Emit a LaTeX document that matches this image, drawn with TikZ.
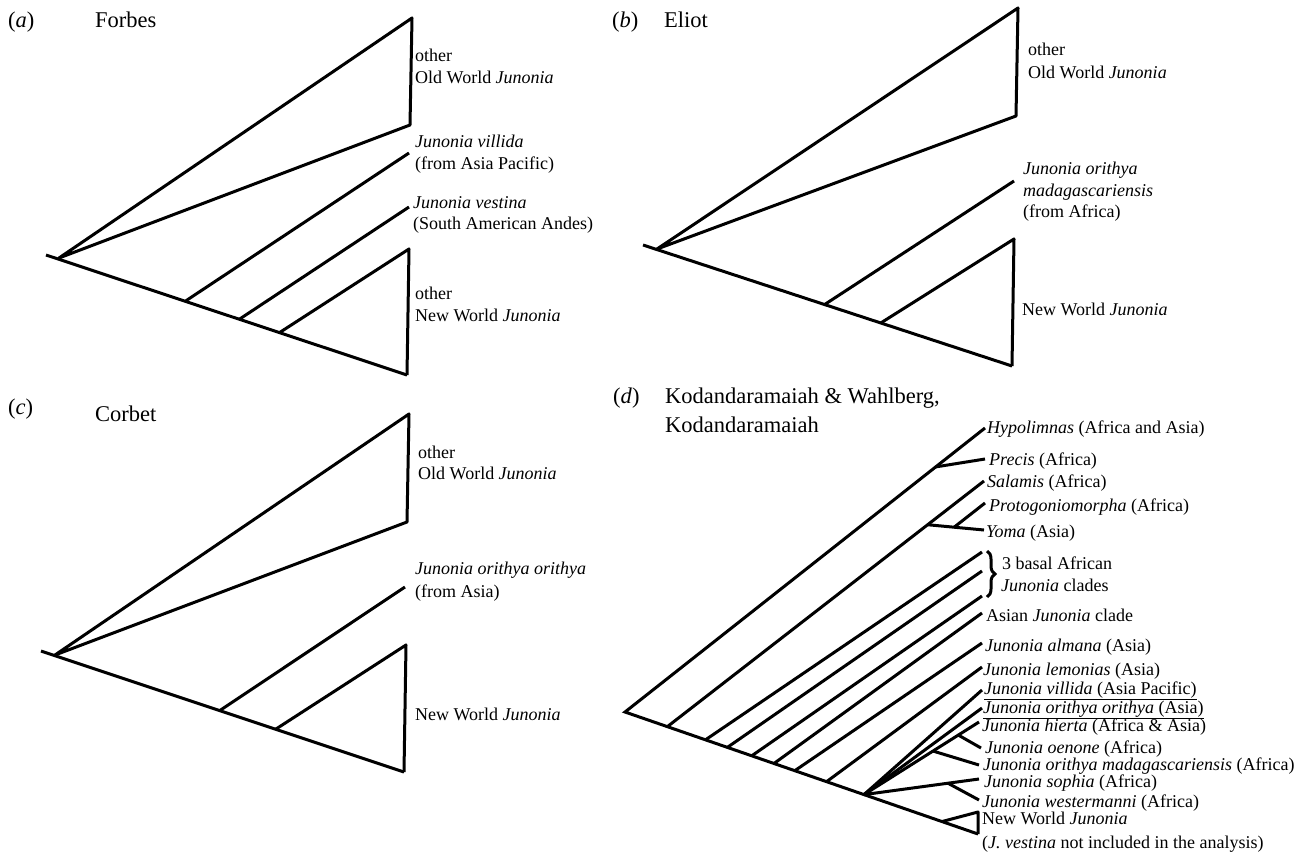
\documentclass[tikz,border=0pt]{standalone}
\usepackage{fontspec}
\setmainfont{Liberation Serif}
\usepackage{tikz}
\usetikzlibrary{calc,decorations.pathreplacing}
\definecolor{treeink}{RGB}{0,0,0}

\begin{document}
\begin{tikzpicture}[x=1pt,y=-1pt,
    branch/.style={treeink,line width=3pt,line join=round},
    taxon/.style={anchor=base west,inner sep=0pt,text=treeink,font=\fontsize{18}{22}\selectfont},
    paneltag/.style={anchor=base west,inner sep=0pt,text=treeink,font=\fontsize{22.5}{29}\selectfont}]

    \useasboundingbox (0,0) rectangle (1314,854);

    % 白色底

    \fill[white] (0,0) rectangle (1314,854);

    % (a) Forbes

    \node[paneltag] (tagA) at (8,27) {(\textit{a})};
    \node[paneltag] (authA) at (95,27) {Forbes};

    \coordinate (aS) at (46,255);
    \coordinate (aR) at (59,258);
    \coordinate (aE) at (407,375);
    \coordinate (aT1) at (412,18);
    \coordinate (aT2) at (410,125);
    \coordinate (aV0) at ($(aR)!0.365!(aE)$);
    \coordinate (aV1) at (409,153);
    \coordinate (aW0) at ($(aR)!0.52!(aE)$);
    \coordinate (aW1) at (409,207);
    \coordinate (aN0) at ($(aR)!0.635!(aE)$);
    \coordinate (aN1) at (409,249);

    \draw[branch] (aS) -- (aE);
    \draw[branch] (aR) -- (aT1) -- (aT2) -- cycle;
    \draw[branch] (aV0) -- (aV1);
    \draw[branch] (aW0) -- (aW1);
    \draw[branch] (aN0) -- (aN1) -- (aE);

    \node[taxon] (aOW1) at (415,61) {other};
    \node[taxon] (aOW2) at (415,83) {Old World \textit{Junonia}};
    \node[taxon] (aVi1) at (415,147) {\textit{Junonia villida}};
    \node[taxon] (aVi2) at (415,169) {(from Asia Pacific)};
    \node[taxon] (aVe1) at (413,208) {\textit{Junonia vestina}};
    \node[taxon] (aVe2) at (413,229) {(South American Andes)};
    \node[taxon] (aNW1) at (415,299) {other};
    \node[taxon] (aNW2) at (415,321) {New World \textit{Junonia}};

    % (b) Eliot

    \node[paneltag] (tagB) at (612,27) {(\textit{b})};
    \node[paneltag] (authB) at (664,27) {Eliot};

    \coordinate (bS) at (643,245);
    \coordinate (bR) at (657,249);
    \coordinate (bE) at (1012,366);
    \coordinate (bT1) at (1018,8);
    \coordinate (bT2) at (1016,116);
    \coordinate (bM0) at ($(bR)!0.473!(bE)$);
    \coordinate (bM1) at (1014,181);
    \coordinate (bN0) at ($(bR)!0.631!(bE)$);
    \coordinate (bN1) at (1014,239);

    \draw[branch] (bS) -- (bE);
    \draw[branch] (bR) -- (bT1) -- (bT2) -- cycle;
    \draw[branch] (bM0) -- (bM1);
    \draw[branch] (bN0) -- (bN1) -- (bE);

    \node[taxon] (bOW1) at (1028,55) {other};
    \node[taxon] (bOW2) at (1028,78) {Old World \textit{Junonia}};
    \node[taxon] (bMa1) at (1023,174) {\textit{Junonia orithya}};
    \node[taxon] (bMa2) at (1023,196) {\textit{madagascariensis}};
    \node[taxon] (bMa3) at (1023,217) {(from Africa)};
    \node[taxon] (bNW1) at (1022,315) {New World \textit{Junonia}};

    % (c) Corbet

    \node[paneltag] (tagC) at (8,414) {(\textit{c})};
    \node[paneltag] (authC) at (95,421) {Corbet};

    \coordinate (cS) at (41,651);
    \coordinate (cR) at (55,655);
    \coordinate (cE) at (404,772);
    \coordinate (cT1) at (409,414);
    \coordinate (cT2) at (407,522);
    \coordinate (cO0) at ($(cR)!0.473!(cE)$);
    \coordinate (cO1) at (405,587);
    \coordinate (cN0) at ($(cR)!0.633!(cE)$);
    \coordinate (cN1) at (406,645);

    \draw[branch] (cS) -- (cE);
    \draw[branch] (cR) -- (cT1) -- (cT2) -- cycle;
    \draw[branch] (cO0) -- (cO1);
    \draw[branch] (cN0) -- (cN1) -- (cE);

    \node[taxon] (cOW1) at (418,458) {other};
    \node[taxon] (cOW2) at (418,479) {Old World \textit{Junonia}};
    \node[taxon] (cOo1) at (415,574) {\textit{Junonia orithya orithya}};
    \node[taxon] (cOo2) at (415,597) {(from Asia)};
    \node[taxon] (cNW1) at (415,720) {New World \textit{Junonia}};

    % (d) Kodandaramaiah & Wahlberg

    \node[paneltag] (tagD) at (613,403) {(\textit{d})};
    \node[paneltag] (authD1) at (665,403) {Kodandaramaiah \& Wahlberg,};
    \node[paneltag] (authD2) at (665,432) {Kodandaramaiah};

    \coordinate (dR) at (625,712);
    \coordinate (dE) at (978,834);
    \coordinate (dHy) at (985,428);
    \coordinate (dPr0) at ($(dR)!0.863!(dHy)$);
    \coordinate (dPr) at (985,459);
    \coordinate (dSa0) at ($(dR)!0.12!(dE)$);
    \coordinate (dSa) at (984,481);
    \coordinate (dYo0) at ($(dSa0)!0.822!(dSa)$);
    \coordinate (dYo) at (984,530);
    \coordinate (dPg0) at ($(dYo0)!0.47!(dYo)$);
    \coordinate (dPg) at (985,503);

    \draw[branch,line join=miter] (dHy) -- (dR) -- (dE);
    \draw[branch] (dPr0) -- (dPr);
    \draw[branch] (dSa0) -- (dSa);
    \draw[branch] (dYo0) -- (dYo);
    \draw[branch] (dPg0) -- (dPg);

    % 基部分支：三个非洲支、亚洲支、almana、lemonias

    \foreach \t/\ty [count=\i] in {0.228/552,0.29/571,0.359/596,0.422/613,0.481/643,0.571/667}{
      \coordinate (dB\i) at ($(dR)!\t!(dE)$);
      \coordinate (dBt\i) at (982,\ty);
      \draw[branch] (dB\i) -- (dBt\i);
    }

    % 冠群

    \coordinate (dC) at ($(dR)!0.677!(dE)$);
    \coordinate (dVi) at (982,690);
    \coordinate (dOo) at (982,708);
    \coordinate (dHi) at (979,722);
    \coordinate (dOe0) at ($(dC)!0.82!(dHi)$);
    \coordinate (dOe) at (981,748);
    \coordinate (dMa0) at ($(dC)!0.6!(dHi)$);
    \coordinate (dMa) at (979,765);
    \coordinate (dSo) at (979,779);
    \coordinate (dWe0) at ($(dC)!0.73!(dSo)$);
    \coordinate (dWe) at (979,800);
    \coordinate (dN0) at ($(dR)!0.898!(dE)$);
    \coordinate (dN1) at (978,812);

    \draw[branch] (dC) -- (dVi);
    \draw[branch] (dC) -- (dOo);
    \draw[branch] (dC) -- (dHi);
    \draw[branch] (dOe0) -- (dOe);
    \draw[branch] (dMa0) -- (dMa);
    \draw[branch] (dC) -- (dSo);
    \draw[branch] (dWe0) -- (dWe);
    \draw[branch] (dN0) -- (dN1) -- (dE);

    % 花括号

    \coordinate (dK1) at (987,551);
    \coordinate (dK2) at (987,597);
    \draw[treeink,line width=3pt,decorate,decoration={brace,amplitude=8pt}] (dK1) -- (dK2);

    \node[taxon] (dHyL) at (987,433) {\textit{Hypolimnas} (Africa and Asia)};
    \node[taxon] (dPrL) at (989,465) {\textit{Precis} (Africa)};
    \node[taxon] (dSaL) at (987,487) {\textit{Salamis} (Africa)};
    \node[taxon] (dPgL) at (989,511) {\textit{Protogoniomorpha} (Africa)};
    \node[taxon] (dYoL) at (986,537) {\textit{Yoma} (Asia)};
    \node[taxon] (dKL1) at (1002,569) {3 basal African};
    \node[taxon] (dKL2) at (1001,591) {\textit{Junonia} clades};
    \node[taxon] (dAsL) at (986,621) {Asian \textit{Junonia} clade};
    \node[taxon] (dAlL) at (985,651) {\textit{Junonia almana} (Asia)};
    \node[taxon] (dLeL) at (983,675) {\textit{Junonia lemonias} (Asia)};
    \node[taxon] (dViL) at (984,694) {\underline{\textit{Junonia villida} (Asia Pacific)}};
    \node[taxon] (dOoL) at (983,713) {\underline{\textit{Junonia orithya orithya} (Asia)}};
    \node[taxon] (dHiL) at (982,731) {\textit{Junonia hierta} (Africa \& Asia)};
    \node[taxon] (dOeL) at (985,753) {\textit{Junonia oenone} (Africa)};
    \node[taxon] (dMaL) at (983,770) {\textit{Junonia orithya madagascariensis} (Africa)};
    \node[taxon] (dSoL) at (984,787) {\textit{Junonia sophia} (Africa)};
    \node[taxon] (dWeL) at (982,807) {\textit{Junonia westermanni} (Africa)};
    \node[taxon] (dNWL1) at (982,824) {New World \textit{Junonia}};
    \node[taxon] (dNWL2) at (982,848) {(\textit{J. vestina} not included in the analysis)};

  \end{tikzpicture}
\end{document}
